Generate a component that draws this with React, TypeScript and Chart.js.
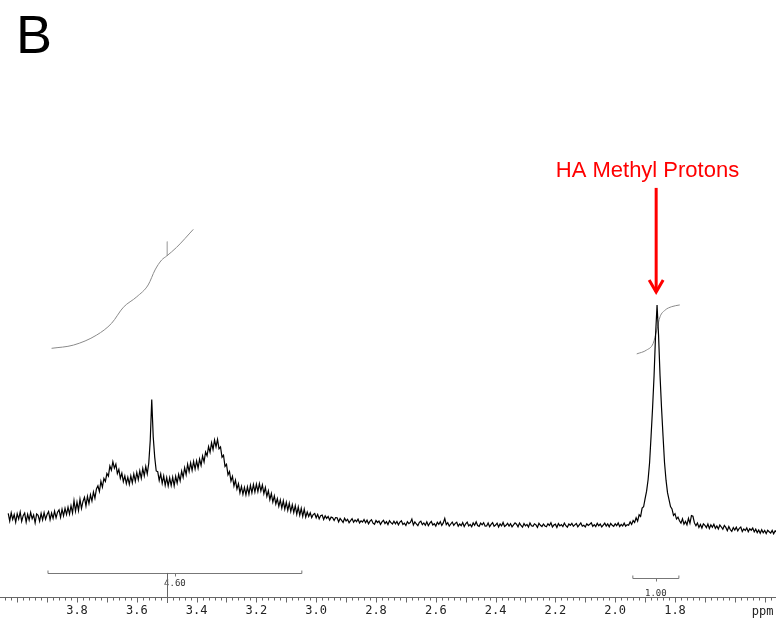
import { useEffect, useRef } from 'react';
import { Chart, registerables } from 'chart.js';

Chart.register(...registerables);

// ---- data ----
const PPM_START = 4.03; // first sample (left edge)
const PPM_STEP = 0.005; // sample spacing (ppm)
// intensity, arbitrary units (baseline ~0, methyl peak = 100); 20 samples per 0.1 ppm
const SPECTRUM_INTENSITY = [
  2.9, -0.6, 3.2, 0.1, 2.4, -1.2, 2.8, 0.3, 3.6, -0.8, 1.9, 3.1, -1.1, 2.5, -0.2, 3.4, 0.4, 2.2, -1.5, 2.7,
  2.0, -0.7, 2.9, -0.1, 3.3, 0.2, 2.4, 3.8, 0.0, 3.1, 0.6, 4.0, 0.9, 3.5, 4.6, 1.1, 4.9, 1.8, 5.3, 2.4,
  5.8, 2.6, 6.5, 3.1, 8.9, 3.9, 8.2, 4.3, 9.6, 5.2, 8.5, 10.4, 6.4, 10.9, 7.5, 11.6, 8.7, 12.9, 10.0, 14.3,
  15.8, 13.1, 17.9, 15.2, 19.2, 17.8, 21.5, 20.3, 25.0, 23.1, 27.0, 24.0, 25.9, 21.5, 23.4, 19.3, 21.7, 17.7, 20.4, 16.8,
  19.8, 16.5, 20.4, 17.2, 21.3, 17.9, 22.0, 18.6, 22.8, 19.3, 23.9, 20.4, 24.8, 21.3, 26.3, 37.0, 56.0, 38.5, 29.0, 22.7,
  22.4, 18.3, 21.3, 16.9, 20.4, 16.0, 19.6, 15.7, 19.5, 15.9, 19.8, 15.8, 20.2, 17.0, 21.1, 18.1, 22.6, 19.7, 24.2, 21.0,
  25.8, 22.4, 26.5, 23.0, 27.2, 23.6, 27.4, 24.0, 28.2, 25.3, 29.7, 26.9, 31.5, 29.8, 34.0, 31.4, 35.8, 32.7, 37.1, 33.9,
  37.4, 33.0, 33.9, 29.1, 30.0, 24.8, 25.8, 20.9, 22.4, 18.0, 20.2, 15.7, 18.4, 14.3, 16.7, 12.5, 15.5, 11.8, 15.0, 11.6,
  15.3, 11.9, 16.0, 12.5, 16.4, 12.9, 16.6, 13.1, 16.8, 13.4, 16.2, 12.1, 15.0, 10.8, 13.4, 9.3, 12.2, 8.2, 11.1, 7.3,
  9.8, 6.2, 9.2, 5.4, 8.8, 4.9, 8.1, 4.3, 7.7, 3.8, 7.0, 3.3, 6.5, 2.5, 5.9, 2.1, 5.3, 1.5, 4.9, 1.2,
  3.6, 1.5, 3.2, 1.0, 2.4, 2.9, 0.9, 2.5, 0.4, 1.9, 2.2, 0.1, 1.8, 0.6, 1.5, -0.2, 1.2, 0.9, -0.4, 1.0,
  0.9, -1.0, 0.6, -0.3, -1.3, 0.7, -0.6, 0.2, -1.4, -0.4, 0.5, -1.2, -0.1, -0.9, 0.3, -1.5, -0.5, -1.1, 0.1, -1.4,
  -0.2, -1.9, -0.7, 0.0, -1.6, -2.1, -0.4, -1.3, -0.6, -2.2, -1.0, -0.3, -1.8, -0.9, -2.3, -0.5, -1.4, -2.0, -0.7, -1.9,
  -0.8, -2.4, -1.1, -0.5, -2.2, -1.6, -2.7, -0.9, -1.8, -1.3, 0.3, -2.5, -1.0, -2.0, -2.8, -1.2, -0.7, -2.3, -1.5, -2.6,
  -1.0, -2.8, -1.6, -0.8, -2.5, -1.9, -3.0, -1.2, -2.2, -0.9, -2.7, -1.5, 0.6, -2.3, -1.4, -3.0, -2.0, -1.1, -2.6, -1.7,
  -1.2, -3.0, -2.0, -2.8, -1.3, -3.2, -1.9, -1.1, -2.9, -2.2, -3.3, -1.5, -2.6, -1.0, -2.7, -3.1, -1.6, -2.4, -1.4, -3.0,
  -2.9, -1.5, -3.3, -2.2, -1.4, -3.1, -2.5, -1.6, -3.4, -2.0, -2.9, -1.3, -3.2, -2.6, -1.7, -3.0, -1.9, -3.3, -2.4, -1.5,
  -2.1, -3.3, -1.6, -2.7, -3.5, -1.8, -2.9, -2.2, -3.4, -1.5, -2.8, -3.1, -1.9, -2.4, -3.6, -1.7, -2.6, -3.2, -2.0, -2.9,
  -3.3, -1.9, -2.7, -1.4, -3.4, -2.5, -2.1, -3.6, -1.8, -2.9, -2.3, -3.2, -1.6, -2.8, -3.5, -2.0, -2.6, -1.7, -3.1, -2.4,
  -1.8, -3.3, -2.4, -1.5, -3.0, -2.6, -3.4, -1.9, -2.7, -2.1, -1.4, -3.1, -2.3, -3.2, -1.7, -2.8, -2.0, -3.4, -2.5, -1.6,
  -3.0, -2.0, -3.3, -1.7, -2.6, -3.1, -1.9, -2.8, -1.5, -3.2, -2.2, -2.9, -1.6, -3.0, -2.3, -2.6, -1.0, -2.2, -0.4, -1.3,
  0.9, -0.7, 2.3, 1.5, 5.4, 6.0, 9.8, 13.3, 18.6, 26.5, 39.0, 52.0, 67.0, 86.0, 100.0, 86.0, 67.0, 52.0, 39.0, 26.5,
  18.4, 12.6, 9.3, 6.1, 5.0, 2.0, 2.8, 0.3, 1.2, -0.5, -1.6, 0.4, -2.1, -0.8, -2.4, 0.6, -1.7, 1.9, 1.6, -1.5,
  -2.8, -1.5, -3.6, -2.2, -3.9, -1.9, -2.6, -3.7, -2.0, -4.1, -2.4, -3.5, -2.1, -4.0, -2.9, -4.3, -2.5, -3.4, -4.4, -2.7,
  -3.6, -5.1, -3.2, -4.6, -5.4, -3.7, -4.8, -3.5, -5.2, -4.0, -3.4, -5.5, -4.3, -5.0, -3.8, -5.6, -4.2, -4.9, -3.9, -5.7,
  -4.4, -6.0, -4.8, -6.3, -4.7, -6.1, -5.0, -6.5, -4.9, -5.6, -6.2, -5.0, -6.6, -5.2, -5.9,
];

// integral traces
const INTEGRAL_A_PPM = [3.885, 3.812, 3.734, 3.684, 3.645, 3.6, 3.562, 3.539, 3.517, 3.5, 3.467, 3.411];
const INTEGRAL_A_VALUE = [79.8, 81.3, 86.0, 91.5, 98.9, 103.8, 109.3, 116.3, 120.9, 122.8, 126.8, 135.2];
const INTEGRAL_B_PPM = [1.928, 1.895, 1.873, 1.861, 1.85, 1.833, 1.811, 1.784];
const INTEGRAL_B_VALUE = [77.2, 79.0, 82.1, 88.3, 94.5, 97.6, 99.2, 100.0];
const INTEGRAL_MARK_PPM = [3.498, 3.498];
const INTEGRAL_MARK_VALUE = [129.5, 122.8];

// integration regions and their values
const INTEGRAL_RANGES = [
  [3.897, 3.048],
  [1.941, 1.787],
];
const INTEGRAL_LABELS = ['4.60', '1.00'];
const CURSOR_PPM = 3.5;

// axis
const TICK_VALUES = [3.8, 3.6, 3.4, 3.2, 3.0, 2.8, 2.6, 2.4, 2.2, 2.0, 1.8];
const AXIS_UNIT = 'ppm';
const PPM_LEFT = 4.0575;
const PPM_RIGHT = 1.4622;

// annotation
const PANEL_LABEL = 'B';
const ANNOTATION_TEXT = 'HA Methyl Protons';
const ANNOTATION_PPM = 1.863;

// ---- layout / style (not data) ----
const W = 776;
const H = 624;
const Y_MIN = -36;
const Y_MAX = 242;
const BRACKET_LEVELS = [-24.8, -27.1];
const BRACKET_LABEL_LEVELS = [-29.9, -34.4];
const ARROW_TOP = 154.5;
const ARROW_TIP = 105.1;
const TEXT_LEVEL = 159.6;
const TEXT_PPM = 1.892;

const overlayPlugin = {
  id: 'overlay',
  afterDraw(chart: any) {
    const { ctx, chartArea, scales } = chart;
    const xs = scales.x;
    const ys = scales.y;
    const base = Math.round(chartArea.bottom) + 0.5;
    ctx.save();

    // minor / major tick marks (every 0.02 ppm, taller every 0.1)
    ctx.strokeStyle = '#666';
    ctx.lineWidth = 1;
    ctx.beginPath();
    for (let i = 74; i <= 202; i++) {
      const px = Math.round(xs.getPixelForValue(i * 0.02)) + 0.5;
      const len = i % 5 === 0 ? 5 : 3;
      ctx.moveTo(px, base);
      ctx.lineTo(px, base + len);
    }
    ctx.stroke();

    // axis unit
    ctx.fillStyle = '#222';
    ctx.font = '12px "DejaVu Sans Mono", monospace';
    ctx.textAlign = 'center';
    ctx.textBaseline = 'middle';
    ctx.fillText(AXIS_UNIT, xs.getPixelForValue(1.5) - 2, chartArea.bottom + 15);

    // integration brackets
    ctx.strokeStyle = '#777';
    ctx.fillStyle = '#333';
    ctx.font = '9px "DejaVu Sans Mono", monospace';
    INTEGRAL_RANGES.forEach((r, i) => {
      const x1 = xs.getPixelForValue(r[0]);
      const x2 = xs.getPixelForValue(r[1]);
      const yl = Math.round(ys.getPixelForValue(BRACKET_LEVELS[i])) + 0.5;
      const xm = (x1 + x2) / 2;
      ctx.beginPath();
      ctx.moveTo(x1, yl - 3);
      ctx.lineTo(x1, yl);
      ctx.lineTo(x2, yl);
      ctx.lineTo(x2, yl - 3);
      ctx.moveTo(Math.round(xm) + 0.5, yl);
      ctx.lineTo(Math.round(xm) + 0.5, yl + 3);
      ctx.stroke();
      ctx.fillText(INTEGRAL_LABELS[i], xm, ys.getPixelForValue(BRACKET_LABEL_LEVELS[i]));
    });

    // cursor line
    const cx = Math.round(xs.getPixelForValue(CURSOR_PPM)) + 0.5;
    ctx.strokeStyle = '#666';
    ctx.beginPath();
    ctx.moveTo(cx, ys.getPixelForValue(BRACKET_LEVELS[0]));
    ctx.lineTo(cx, chartArea.bottom + 6);
    ctx.stroke();

    // red arrow
    const ax = xs.getPixelForValue(ANNOTATION_PPM);
    const aTop = ys.getPixelForValue(ARROW_TOP);
    const aTip = ys.getPixelForValue(ARROW_TIP);
    ctx.strokeStyle = '#ff0000';
    ctx.lineWidth = 3;
    ctx.lineCap = 'butt';
    ctx.beginPath();
    ctx.moveTo(ax, aTop);
    ctx.lineTo(ax, aTip - 2);
    ctx.stroke();
    ctx.lineJoin = 'miter';
    ctx.beginPath();
    ctx.moveTo(ax - 7, aTip - 14);
    ctx.lineTo(ax, aTip - 2);
    ctx.lineTo(ax + 7, aTip - 14);
    ctx.stroke();

    // annotation text
    ctx.fillStyle = '#ff0000';
    ctx.font = '22px "Liberation Sans", Arial, sans-serif';
    ctx.textAlign = 'center';
    ctx.textBaseline = 'alphabetic';
    ctx.fillText(ANNOTATION_TEXT, xs.getPixelForValue(TEXT_PPM), ys.getPixelForValue(TEXT_LEVEL));

    // panel label
    ctx.fillStyle = '#000';
    ctx.font = '54px "Liberation Sans", Arial, sans-serif';
    ctx.textAlign = 'left';
    ctx.fillText(PANEL_LABEL, 16, 53);

    ctx.restore();
  },
};

export default function App() {
  const canvasRef = useRef<HTMLCanvasElement | null>(null);

  useEffect(() => {
    const canvas = canvasRef.current;
    if (!canvas) return;

    const spectrum = SPECTRUM_INTENSITY.map((v, i) => ({ x: PPM_START - i * PPM_STEP, y: v }));
    const integralA = INTEGRAL_A_PPM.map((p, i) => ({ x: p, y: INTEGRAL_A_VALUE[i] }));
    const integralB = INTEGRAL_B_PPM.map((p, i) => ({ x: p, y: INTEGRAL_B_VALUE[i] }));
    const integralMark = INTEGRAL_MARK_PPM.map((p, i) => ({ x: p, y: INTEGRAL_MARK_VALUE[i] }));

    const chart = new Chart(canvas, {
      type: 'line',
      data: {
        datasets: [
          {
            data: spectrum,
            borderColor: '#000',
            borderWidth: 1.2,
            pointRadius: 0,
            tension: 0,
          },
          {
            data: integralA,
            borderColor: '#8a8a8a',
            borderWidth: 1,
            pointRadius: 0,
            cubicInterpolationMode: 'monotone',
          },
          {
            data: integralB,
            borderColor: '#8a8a8a',
            borderWidth: 1,
            pointRadius: 0,
            cubicInterpolationMode: 'monotone',
          },
          {
            data: integralMark,
            borderColor: '#bbb',
            borderWidth: 1,
            pointRadius: 0,
          },
        ],
      } as any,
      options: {
        animation: false,
        responsive: false,
        devicePixelRatio: 1,
        layout: { padding: { top: 0, left: 0, right: 0, bottom: -1.4 } },
        plugins: {
          legend: { display: false },
          tooltip: { enabled: false },
        },
        scales: {
          x: {
            type: 'linear',
            reverse: true,
            min: PPM_RIGHT,
            max: PPM_LEFT,
            grid: { display: false, drawTicks: false, tickLength: 0 },
            border: { display: true, color: '#666', width: 1 },
            ticks: {
              autoSkip: false,
              maxRotation: 0,
              padding: 7,
              color: '#222',
              font: { family: '"DejaVu Sans Mono", monospace', size: 12 },
              callback: (v: any) => Number(v).toFixed(1),
            },
            afterBuildTicks: (scale: any) => {
              scale.ticks = TICK_VALUES.map((v) => ({ value: v }));
            },
          },
          y: {
            type: 'linear',
            display: false,
            min: Y_MIN,
            max: Y_MAX,
          },
        },
      } as any,
      plugins: [overlayPlugin],
    });

    return () => chart.destroy();
  }, []);

  return (
    <div style={{ position: 'fixed', left: 0, top: 0, width: W, height: H, background: '#fff' }}>
      <canvas ref={canvasRef} width={W} height={H} style={{ display: 'block' }} />
    </div>
  );
}
